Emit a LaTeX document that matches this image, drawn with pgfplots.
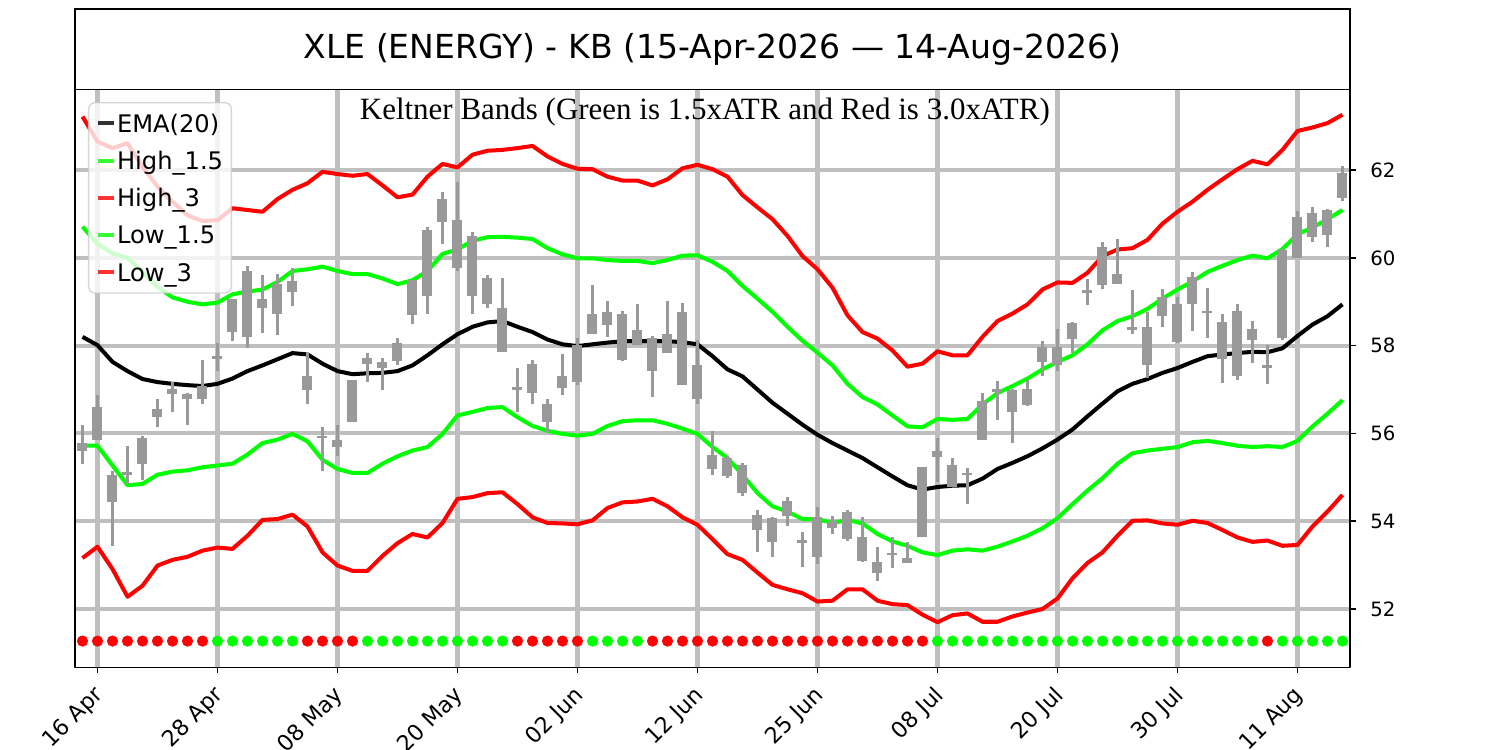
\documentclass[border=0pt]{standalone}
\usepackage{fontspec}
\setmainfont{DejaVu Sans}
\newfontfamily\subfont{Liberation Serif}
\usepackage{pgfplots}
\pgfplotsset{compat=1.18}
\usepackage{pgfplotstable}

\definecolor{gridc}{RGB}{191,191,191}
\definecolor{candle}{RGB}{153,153,153}
\definecolor{lgreen}{RGB}{0,255,0}
\definecolor{lred}{RGB}{255,0,0}
\definecolor{legframe}{RGB}{204,204,204}

\pgfplotstableread{
i ema h15 h3 l15 l3
0 58.20 60.71 63.22 55.72 53.16
1 58.01 60.32 62.65 55.72 53.42
2 57.63 60.10 62.50 55.27 52.91
3 57.42 60.00 62.61 54.82 52.28
4 57.24 59.68 62.08 54.85 52.53
5 57.17 59.34 61.62 55.06 52.99
6 57.13 59.10 61.28 55.13 53.12
7 57.10 59.00 60.97 55.16 53.19
8 57.08 58.94 60.84 55.23 53.33
9 57.13 58.98 60.86 55.27 53.40
10 57.25 59.17 61.13 55.31 53.37
11 57.42 59.23 61.09 55.52 53.67
12 57.55 59.28 61.05 55.78 54.03
13 57.69 59.45 61.34 55.86 54.05
14 57.83 59.70 61.55 55.99 54.15
15 57.80 59.74 61.70 55.82 53.88
16 57.59 59.80 61.96 55.40 53.29
17 57.42 59.70 61.91 55.19 52.99
18 57.35 59.63 61.87 55.10 52.87
19 57.37 59.63 61.91 55.10 52.87
20 57.38 59.53 61.65 55.31 53.21
21 57.42 59.40 61.38 55.48 53.50
22 57.55 59.49 61.44 55.61 53.71
23 57.78 59.70 61.85 55.69 53.63
24 58.03 60.09 62.14 55.99 53.96
25 58.26 60.19 62.06 56.41 54.51
26 58.43 60.39 62.35 56.49 54.55
27 58.53 60.47 62.44 56.58 54.64
28 58.56 60.48 62.46 56.60 54.66
29 58.43 60.46 62.50 56.37 54.39
30 58.31 60.43 62.55 56.17 54.09
31 58.14 60.22 62.31 56.06 53.96
32 58.03 60.08 62.14 55.99 53.95
33 57.99 59.99 62.03 55.95 53.93
34 58.03 59.99 62.02 55.99 54.02
35 58.07 59.95 61.85 56.17 54.30
36 58.10 59.93 61.76 56.28 54.43
37 58.10 59.93 61.76 56.30 54.45
38 58.10 59.88 61.65 56.30 54.51
39 58.10 59.95 61.79 56.22 54.34
40 58.08 60.05 62.04 56.11 54.09
41 58.03 60.06 62.12 55.99 53.92
42 57.76 59.91 62.02 55.69 53.59
43 57.46 59.70 61.85 55.44 53.25
44 57.30 59.36 61.43 55.06 53.12
45 57.00 59.07 61.15 54.64 52.83
46 56.70 58.77 60.88 54.34 52.55
47 56.45 58.43 60.50 54.22 52.45
48 56.20 58.11 60.04 54.05 52.36
49 55.97 57.84 59.74 54.05 52.17
50 55.78 57.55 59.32 53.96 52.19
51 55.61 57.13 58.69 54.03 52.45
52 55.44 56.83 58.31 53.95 52.45
53 55.23 56.66 58.16 53.71 52.19
54 55.02 56.41 57.89 53.54 52.11
55 54.82 56.16 57.52 53.44 52.09
56 54.72 56.14 57.59 53.29 51.87
57 54.78 56.33 57.87 53.23 51.70
58 54.81 56.31 57.78 53.33 51.86
59 54.82 56.33 57.78 53.36 51.90
60 54.97 56.66 58.20 53.33 51.71
61 55.19 56.92 58.56 53.42 51.71
62 55.33 57.08 58.73 53.54 51.83
63 55.48 57.25 58.94 53.67 51.92
64 55.66 57.46 59.28 53.84 52.00
65 55.86 57.63 59.44 54.07 52.24
66 56.09 57.78 59.43 54.39 52.70
67 56.39 58.03 59.66 54.70 53.05
68 56.68 58.35 60.04 54.98 53.29
69 56.96 58.56 60.19 55.31 53.67
70 57.13 58.67 60.22 55.55 54.01
71 57.24 58.84 60.41 55.61 54.02
72 57.38 59.07 60.78 55.65 53.95
73 57.49 59.28 61.05 55.69 53.92
74 57.63 59.46 61.28 55.80 54.01
75 57.76 59.68 61.55 55.83 53.96
76 57.80 59.82 61.79 55.78 53.80
77 57.83 59.95 62.02 55.72 53.63
78 57.86 60.05 62.21 55.69 53.53
79 57.85 59.99 62.13 55.71 53.56
80 57.94 60.20 62.46 55.69 53.44
81 58.22 60.54 62.89 55.83 53.46
82 58.48 60.69 62.97 56.16 53.88
83 58.67 60.88 63.07 56.45 54.22
84 58.94 61.09 63.26 56.76 54.60
}\bands

\pgfplotstableread{
i bmin bmax lo hi
0 55.61 55.78 55.31 56.20
1 55.84 56.60 55.84 56.87
2 54.43 55.06 53.44 55.14
3 55.05 55.13 54.85 55.71
4 55.31 55.90 54.93 55.95
5 56.37 56.56 56.14 56.79
6 56.90 57.02 56.49 57.17
7 56.79 56.90 56.20 56.92
8 56.79 57.08 56.66 57.67
9 57.70 57.77 57.42 58.05
10 58.31 59.07 58.10 59.07
11 58.20 59.70 57.94 59.82
12 58.86 59.07 58.28 59.61
13 58.73 59.40 58.24 59.63
14 59.23 59.47 58.90 59.76
15 57.00 57.30 56.66 57.86
16 55.89 55.95 55.14 56.14
17 55.69 55.86 55.48 56.20
18 56.27 57.21 56.27 57.21
19 57.59 57.72 57.17 57.83
20 57.49 57.63 56.98 57.72
21 57.65 58.07 57.55 58.18
22 58.70 59.49 58.50 59.49
23 59.12 60.63 58.73 60.71
24 60.82 61.33 60.31 61.49
25 59.77 60.86 59.70 61.72
26 59.12 60.50 58.73 60.60
27 58.96 59.53 58.86 59.61
28 57.86 58.86 57.86 59.55
29 56.99 57.05 56.49 57.49
30 56.93 57.59 56.68 57.67
31 56.26 56.68 56.03 56.79
32 57.04 57.32 56.87 57.80
33 57.17 58.01 57.10 58.18
34 58.26 58.73 58.26 59.38
35 58.48 58.77 58.20 59.02
36 57.67 58.73 57.65 58.79
37 58.01 58.35 58.01 58.96
38 57.42 58.18 56.83 58.22
39 57.83 58.26 57.83 59.02
40 57.10 58.77 57.10 58.98
41 56.79 57.57 56.66 58.14
42 55.19 55.52 55.06 56.06
43 55.02 55.44 54.99 55.48
44 54.64 55.27 54.57 55.33
45 53.80 54.15 53.29 54.26
46 53.53 54.07 53.19 54.09
47 54.13 54.47 53.90 54.55
48 53.51 53.57 52.95 53.75
49 53.19 54.09 53.02 54.32
50 53.84 54.01 53.71 54.13
51 53.59 54.22 53.54 54.26
52 53.10 53.63 53.08 54.09
53 52.83 53.08 52.63 53.42
54 53.22 53.28 52.94 53.63
55 53.05 53.16 53.04 53.53
56 53.63 55.24 53.63 55.24
57 55.47 55.61 54.89 55.90
58 54.77 55.27 54.77 55.44
59 55.05 55.11 54.40 55.21
60 55.86 56.75 55.86 56.93
61 56.95 57.01 56.30 57.19
62 56.49 56.98 55.78 57.02
63 56.65 57.02 56.62 57.21
64 57.63 57.97 57.32 58.10
65 57.55 57.97 57.42 58.37
66 58.16 58.52 57.84 58.53
67 59.20 59.26 58.92 59.51
68 59.38 60.25 59.28 60.37
69 59.40 59.63 59.40 60.44
70 58.36 58.42 58.26 59.26
71 57.55 58.42 57.27 58.77
72 58.67 59.11 58.43 59.28
73 58.08 58.96 58.05 59.11
74 58.94 59.57 58.33 59.68
75 58.74 58.80 58.18 59.32
76 57.69 58.53 57.15 58.73
77 57.30 58.79 57.21 58.96
78 58.14 58.39 57.61 58.56
79 57.49 57.55 57.13 58.01
80 58.18 60.19 58.14 60.22
81 59.99 60.94 59.99 61.06
82 60.47 61.03 60.37 61.15
83 60.52 61.09 60.25 61.11
84 61.37 61.93 61.30 62.10
}\candles

\begin{document}
\begin{tikzpicture}
\path[use as bounding box] (-54pt,-59.3pt) rectangle (1026pt,480.7pt);

% title box
\begin{axis}[
  at={(0pt,416.4pt)}, anchor=south west,
  scale only axis, width=918pt, height=58pt,
  xmin=0, xmax=1, ymin=0, ymax=1,
  xtick=\empty, ytick=\empty,
  axis line style={line width=1.1pt},
]
\node[font=\fontsize{23.8}{28}\selectfont] at (axis cs:0.5,0.5) {XLE (ENERGY) - KB (15-Apr-2026 — 14-Aug-2026)};
\end{axis}

\begin{axis}[
  at={(0pt,0pt)}, anchor=south west,
  scale only axis, width=918pt, height=416.4pt,
  xmin=-0.5, xmax=84.5, ymin=50.665, ymax=63.84,
  xtick={1,9,...,81},
  xticklabels={16 Apr,28 Apr,08 May,20 May,02 Jun,12 Jun,25 Jun,08 Jul,20 Jul,30 Jul,11 Aug},
  ytick={52,54,...,62},
  xtick pos=left, ytick pos=right, yticklabel pos=right,
  tick align=outside, major tick length=4pt,
  tick style={black, line width=1.1pt},
  axis line style={line width=1.1pt},
  grid=major, major grid style={gridc, line width=2.9pt},
  /pgf/number format/assume math mode=true,
  yticklabel style={font=\fontsize{14.2}{16}\selectfont, anchor=west, inner sep=0pt, xshift=10.4pt},
  xticklabel style={font=\fontsize{16}{18}\selectfont, xshift=-3.6pt, yshift=-8pt, rotate=45, anchor=north east, inner sep=0pt},
  legend style={at={(0.0102,0.978)}, anchor=north west,
    draw=legframe, line width=1pt, rounded corners=4pt,
    fill=white, fill opacity=0.8, draw opacity=0.8, text opacity=1,
    font=\fontsize{17.4}{20}\selectfont,
    inner xsep=5pt, inner ysep=1.5pt, row sep=0pt,
    nodes={inner xsep=1pt, inner ysep=0pt, text height=19.7pt, text depth=7.1pt}},
  legend cell align=left,
  legend image code/.code={\draw[#1, line width=2.9pt] (0pt,0pt) -- (11.5pt,0pt);},
  line join=round,
]
\addplot[black, line width=2.9pt] table[x=i, y=ema] {\bands};
\addlegendentry{EMA(20)}
\addplot[lgreen, line width=2.9pt] table[x=i, y=h15] {\bands};
\addlegendentry{High\_1.5}
\addplot[lred, line width=2.9pt] table[x=i, y=h3] {\bands};
\addlegendentry{High\_3}
\addplot[lgreen, line width=2.9pt] table[x=i, y=l15] {\bands};
\addlegendentry{Low\_1.5}
\addplot[lred, line width=2.9pt] table[x=i, y=l3] {\bands};
\addlegendentry{Low\_3}

% wicks
\addplot[forget plot, draw=none, mark=none,
  error bars/.cd, y dir=plus, y explicit, error mark=none,
  error bar style={draw=candle, line width=2.4pt}]
  table[x=i, y=lo, y error expr=\thisrow{hi}-\thisrow{lo}] {\candles};
% bodies
\addplot[forget plot, draw=none, mark=none,
  error bars/.cd, y dir=plus, y explicit, error mark=none,
  error bar style={draw=candle, line width=7.2pt}]
  table[x=i, y=bmin, y error expr=\thisrow{bmax}-\thisrow{bmin}] {\candles};

% signal dots
\addplot[forget plot, lred, only marks, mark=*, mark size=3.8pt, mark options={draw=none, fill=lred}]
coordinates {(0,51.27)(1,51.27)(2,51.27)(3,51.27)(4,51.27)(5,51.27)(6,51.27)(7,51.27)(8,51.27)
(15,51.27)(16,51.27)(17,51.27)(18,51.27)
(29,51.27)(30,51.27)(31,51.27)(32,51.27)(33,51.27)
(38,51.27)(39,51.27)(40,51.27)(41,51.27)(42,51.27)(43,51.27)(44,51.27)(45,51.27)(46,51.27)(47,51.27)
(48,51.27)(49,51.27)(50,51.27)(51,51.27)(52,51.27)(53,51.27)(54,51.27)(55,51.27)(56,51.27)
(79,51.27)};
\addplot[forget plot, lgreen, only marks, mark=*, mark size=3.8pt, mark options={draw=none, fill=lgreen}]
coordinates {(9,51.27)(10,51.27)(11,51.27)(12,51.27)(13,51.27)(14,51.27)
(19,51.27)(20,51.27)(21,51.27)(22,51.27)(23,51.27)(24,51.27)(25,51.27)(26,51.27)(27,51.27)(28,51.27)
(34,51.27)(35,51.27)(36,51.27)(37,51.27)
(57,51.27)(58,51.27)(59,51.27)(60,51.27)(61,51.27)(62,51.27)(63,51.27)(64,51.27)(65,51.27)(66,51.27)
(67,51.27)(68,51.27)(69,51.27)(70,51.27)(71,51.27)(72,51.27)(73,51.27)(74,51.27)(75,51.27)(76,51.27)
(77,51.27)(78,51.27)(80,51.27)(81,51.27)(82,51.27)(83,51.27)(84,51.27)};

\node[font=\subfont\fontsize{22.3}{26}\selectfont] at (rel axis cs:0.494,0.960) {Keltner Bands (Green is 1.5xATR and Red is 3.0xATR)};
\end{axis}
\end{tikzpicture}
\end{document}
